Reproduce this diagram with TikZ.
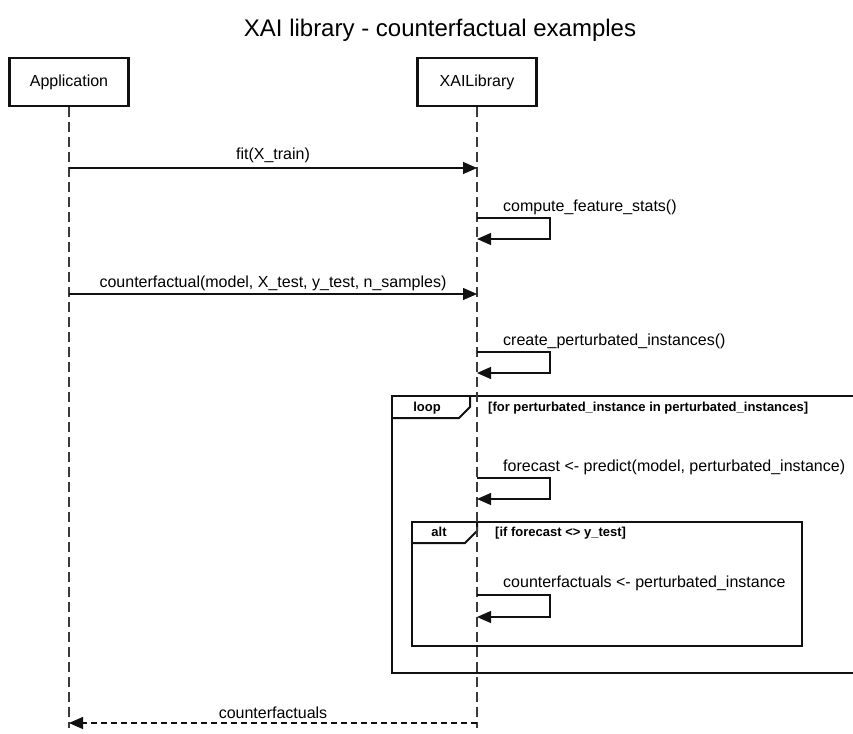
\documentclass[tikz,border=0pt]{standalone}
\usepackage{fontspec}
\setmainfont{Liberation Sans}
\usetikzlibrary{positioning, arrows.meta}
\definecolor{lifegray}{HTML}{3A3A3A}
\definecolor{inkblack}{HTML}{111111}

\begin{document}
\begin{tikzpicture}[x=1pt, y=-1pt,
  actor/.style={draw=inkblack, line width=2.7pt, minimum width=119pt, minimum height=48pt,
                font=\fontsize{16}{19}\selectfont},
  lifeline/.style={draw=lifegray, line width=1.5pt, dash pattern=on 10pt off 5pt},
  msg/.style={draw=inkblack, line width=1.3pt, -{Triangle[length=14pt, width=12pt]}},
  reply/.style={msg, dash pattern=on 6pt off 4pt},
  lbl/.style={font=\fontsize{16}{19}\selectfont, inner sep=0pt, anchor=base},
  frame/.style={draw=inkblack, line width=2pt},
  tag/.style={font=\bfseries\fontsize{13}{15}\selectfont, inner sep=0pt, anchor=base}]
  \useasboundingbox (0,0) rectangle (853,733);

  \node[font=\fontsize{24}{28}\selectfont, inner sep=0pt, anchor=base] (title) at (440,37)
    {XAI library - counterfactual examples};

  % participants
  \node[actor] (app) at (69,82) {Application};
  \node[actor] (lib) at (477,82) {XAILibrary};

  % loop and alt frames
  \draw[frame] (855,396) -- (392,396) -- (392,673) -- (855,673);
  \draw[frame] (392,418) -- (459,418) -- (470,407) -- (470,396);
  \node[tag] (loopTag) at (427,411) {loop};
  \node[tag, anchor=base west] (loopGuard) at (488,411)
    {[for perturbated\_instance in perturbated\_instances]};

  \draw[frame] (412,522) rectangle (802,646);
  \draw[frame] (412,543) -- (465,543) -- (477,531) -- (477,522);
  \node[tag] (altTag) at (439,536) {alt};
  \node[tag, anchor=base west] (altGuard) at (495,536) {[if forecast <> y\_test]};

  % lifelines
  \coordinate (appEnd) at (69,728);
  \coordinate (libEnd) at (477,728);
  \draw[lifeline] (app.south) -- (appEnd);
  \draw[lifeline] (lib.south) -- (libEnd);

  % fit
  \coordinate (fitA) at (69,168);
  \coordinate (fitL) at (477,168);
  \draw[msg] (fitA) -- node[lbl, yshift=9pt] (fitLbl) {fit(X\_train)} (fitL);

  % compute_feature_stats
  \coordinate (statS) at (477,218);
  \coordinate (statE) at (477,239);
  \draw[msg] (statS) -- ++(73,0) |- (statE);
  \node[lbl, anchor=base west] (statLbl) at ([xshift=26pt, yshift=7pt]statS) {compute\_feature\_stats()};

  % counterfactual call
  \coordinate (cfA) at (69,294);
  \coordinate (cfL) at (477,294);
  \draw[msg] (cfA) -- node[lbl, yshift=7pt] (cfLbl) {counterfactual(model, X\_test, y\_test, n\_samples)} (cfL);

  % create_perturbated_instances
  \coordinate (pertS) at (477,352);
  \coordinate (pertE) at (477,373);
  \draw[msg] (pertS) -- ++(73,0) |- (pertE);
  \node[lbl, anchor=base west] (pertLbl) at ([xshift=26pt, yshift=7pt]pertS) {create\_perturbated\_instances()};

  % predict
  \coordinate (predS) at (477,478);
  \coordinate (predE) at (477,499);
  \draw[msg] (predS) -- ++(73,0) |- (predE);
  \node[lbl, anchor=base west] (predLbl) at ([xshift=26pt, yshift=7pt]predS)
    {forecast <- predict(model, perturbated\_instance)};

  % keep counterfactual
  \coordinate (keepS) at (477,595);
  \coordinate (keepE) at (477,617);
  \draw[msg] (keepS) -- ++(73,0) |- (keepE);
  \node[lbl, anchor=base west] (keepLbl) at ([xshift=26pt, yshift=8pt]keepS)
    {counterfactuals <- perturbated\_instance};

  % return
  \coordinate (retL) at (477,723);
  \coordinate (retA) at (69,723);
  \draw[reply] (retL) -- node[lbl, yshift=5pt] (retLbl) {counterfactuals} (retA);
\end{tikzpicture}
\end{document}
